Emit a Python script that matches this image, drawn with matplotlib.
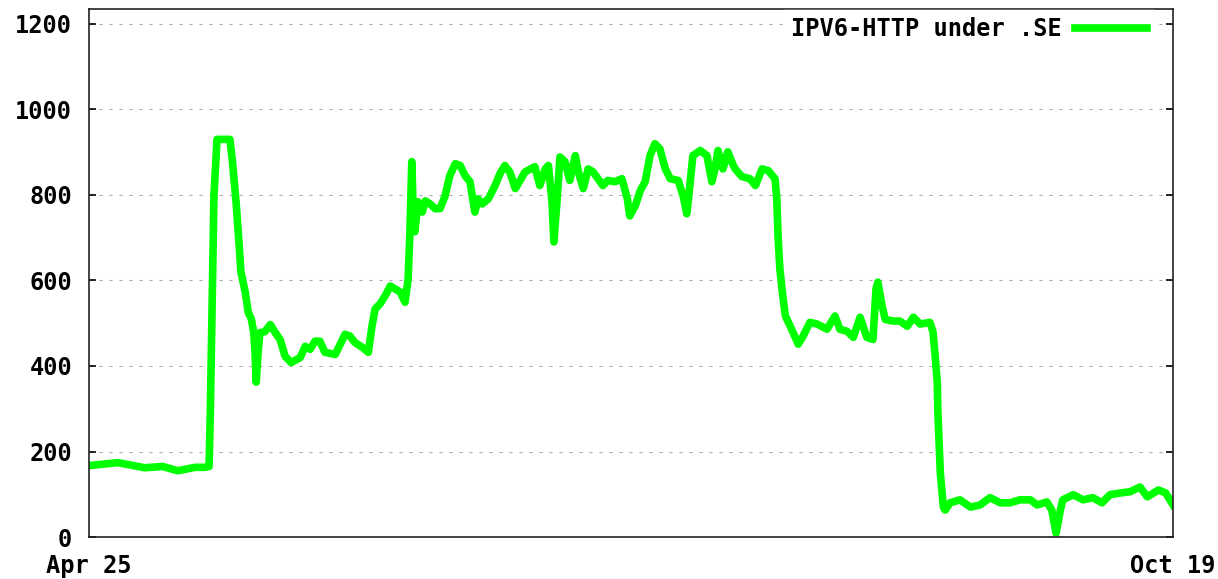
import matplotlib
matplotlib.use("Agg")
import matplotlib.pyplot as plt

# days since Apr 25
days = [0, 4.7, 9.1, 12, 14.5, 17.3, 18.9, 19.6, 19.8, 20.1, 20.4, 20.9, 23.0, 23.4,
        24.0, 24.5, 24.8, 25.5, 26.0, 26.5, 26.9, 27.1, 27.3, 27.6, 27.9, 28.7, 29.6,
        30.4, 31.2, 32.0, 33.0, 34.5, 35.3, 36.1, 36.9, 37.7, 38.5, 40.2, 41.8, 42.6,
        43.4, 44.6, 45.6, 46.2, 46.7, 47.5, 48.3, 49.2, 50.0, 50.8, 51.6, 52.1, 52.4,
        52.7, 52.9, 53.2, 53.7, 54.4, 54.9, 55.7, 56.5, 57.3, 58.1, 58.9, 59.8, 60.6,
        61.4, 62.2, 63.0, 63.5, 64.2, 65.2, 66.3, 67.1, 67.9, 68.7, 69.6, 71.2, 72.8,
        73.6, 74.5, 75.0, 75.6, 75.9, 76.4, 76.9, 77.7, 78.5, 79.4, 79.9, 80.7, 81.5,
        82.3, 83.1, 83.9, 84.7, 85.9, 87.0, 87.9, 88.3, 89.2, 90.0, 90.8, 91.6, 92.4,
        93.2, 94.1, 94.9, 96.2, 97.0, 97.6, 98.1, 98.6, 99.8, 100.9, 101.7, 102.2,
        102.7, 103.5, 104.3, 105.2, 105.5, 106.6, 107.9, 108.8, 109.9, 110.9, 112.0,
        112.3, 112.5, 112.8, 113.2, 113.7, 114.5, 115.3, 115.8, 116.6, 117.7, 118.9,
        120.5, 121.8, 122.6, 123.8, 124.8, 125.9, 127.0, 128.0, 128.5, 128.8, 129.5,
        130.0, 131.3, 132.4, 133.6, 134.6, 135.7, 137.3, 137.8, 138.1, 138.5, 138.6,
        139.0, 139.5, 139.8, 140.6, 142.2, 143.9, 145.5, 147.1, 148.8, 150.4, 152.0,
        153.7, 154.8, 156.4, 157.2, 157.9, 158.6, 159.0, 160.7, 162.3, 163.9, 165.4,
        166.7, 168.4, 170.0, 171.6, 172.8, 174.6, 175.8, 177.0]

counts = [167, 174, 162, 165, 155, 163, 163, 165, 290, 540, 800, 930, 930, 880,
          785, 685, 620, 573, 525, 510, 478, 432, 362, 432, 478, 480, 497,
          478, 462, 423, 408, 420, 446, 439, 458, 458, 432, 427, 474, 470,
          455, 444, 432, 493, 533, 545, 563, 587, 580, 573, 549, 603, 714,
          878, 775, 714, 784, 760, 786, 779, 768, 768, 796, 845, 873, 869,
          845, 831, 760, 791, 779, 791, 822, 850, 869, 854, 815, 854, 866,
          822, 861, 869, 784, 690, 784, 889, 878, 834, 892, 854, 815, 861,
          854, 838, 822, 834, 831, 838, 791, 751, 775, 810, 831, 892, 920,
          908, 861, 838, 834, 798, 756, 822, 892, 904, 892, 831, 861,
          904, 861, 901, 869, 861, 843, 838, 822, 861, 857, 838,
          791, 704, 627, 573, 517, 493, 467, 451, 470, 502, 498,
          486, 517, 486, 481, 467, 514, 467, 462, 580, 596, 540,
          509, 505, 505, 493, 514, 498, 502, 480, 432, 362, 291,
          150, 70, 63, 80, 87, 70, 75, 92, 80, 80, 87,
          87, 75, 82, 63, 9, 63, 87, 99, 87, 92, 80,
          99, 103, 106, 117, 94, 110, 103, 75]

series_name = "IPV6-HTTP under .SE"
x_tick_pos = [0, 177]
x_tick_labels = ["Apr 25", "Oct 19"]
y_ticks = [0, 200, 400, 600, 800, 1000, 1200]

plt.rcParams['font.family'] = ['DejaVu Sans Mono']
plt.rcParams['font.size'] = 17
plt.rcParams['font.weight'] = 'bold'

fig = plt.figure(figsize=(12.18, 5.79), dpi=100)
ax = fig.add_axes([0.0731, 0.0725, 0.890, 0.912])

ax.plot(days, counts, color='#00ff00', lw=5.5, label=series_name)

ax.set_xlim(0, 177)
ax.set_ylim(0, 1235)
ax.set_xticks(x_tick_pos)
ax.set_xticklabels(x_tick_labels)
ax.set_yticks(y_ticks)

for y in y_ticks[1:]:
    ax.axhline(y, color='#a8a8a8', lw=0.75, ls=(0, (2.9, 6.7)), zorder=0)

ax.tick_params(axis='y', direction='in', length=5, width=1.2, pad=12,
               right=True, labelsize=17)
ax.tick_params(axis='x', direction='in', length=0, pad=12, labelsize=17)
for s in ax.spines.values():
    s.set_linewidth(1.2)
    s.set_color('#222222')

leg = ax.legend(loc='center right', bbox_to_anchor=(0.9825, 0.962),
                markerfirst=False, frameon=True, fancybox=False,
                handlelength=3.05, handletextpad=0.55, borderpad=0.3,
                borderaxespad=0, fontsize=17)
leg.get_frame().set_edgecolor('white')
leg.get_frame().set_facecolor('white')
leg.get_frame().set_alpha(1)

fig.savefig('out.png', dpi=100)
